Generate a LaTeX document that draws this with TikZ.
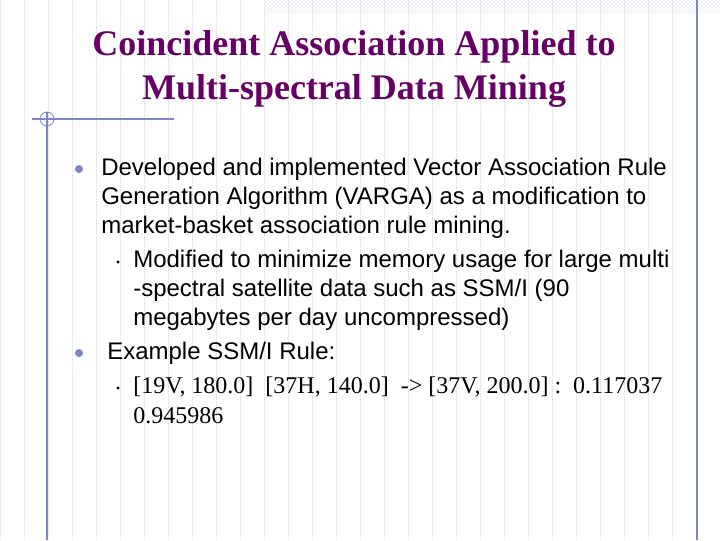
\documentclass[tikz,border=0pt]{standalone}
\usepackage{fontspec}
\setmainfont{Liberation Serif}
\setsansfont{Liberation Sans}
\usetikzlibrary{patterns}
\definecolor{ttl}{HTML}{660066}
\definecolor{deco}{HTML}{7B86C8}
\definecolor{gridc}{HTML}{D8D8E0}
\tikzset{x=0.75pt,y=-0.75pt,
 body/.style={anchor=west,inner sep=0pt,font=\sffamily\fontsize{18}{20}\selectfont},
 bodyser/.style={anchor=west,inner sep=0pt,font=\rmfamily\fontsize{18}{20}\selectfont},
 ttlstyle/.style={inner sep=0pt,text=ttl,font=\rmfamily\bfseries\fontsize{27}{30}\selectfont},
 bul/.style={circle,fill=deco,inner sep=0pt,minimum size=6pt},
 sbul/.style={circle,fill=black,inner sep=0pt,minimum size=2.4pt}}
\begin{document}
\begin{tikzpicture}
\useasboundingbox (0,0) rectangle (720,540);
\fill[white] (0,0) rectangle (720,540);
\draw[gridc,densely dotted,line width=0.5pt] (0,0) grid[step=24] (720,540);
\fill[pattern=crosshatch dots,pattern color=deco!50] (265,0) rectangle (720,12);
\draw[deco,line width=0.8pt] (697,0) -- (697,540);
\draw[deco,line width=0.8pt] (32,119) -- (174,119);
\draw[deco,line width=0.8pt] (47,112) -- (47,540);
\draw[deco,line width=0.6pt] (47,119) circle[radius=7];
\node[ttlstyle] (t1) at (354,47) {Coincident Association Applied to};
\node[ttlstyle] (t2) at (354,91) {Multi-spectral Data Mining};
\node[bul] (b1) at (79,169) {};
\node[body] (l1) at (101,169) {Developed and implemented Vector Association Rule};
\node[body] (l2) at (101,198) {Generation Algorithm (VARGA) as a modification to};
\node[body] (l3) at (101,227) {market-basket association rule mining.};
\node[sbul] (s1) at (118,262) {};
\node[body] (l4) at (133,261) {Modified to minimize memory usage for large multi};
\node[body] (l5) at (133,290) {-spectral satellite data such as SSM/I (90};
\node[body] (l6) at (133,319) {megabytes per day uncompressed)};
\node[bul] (b2) at (79,353) {};
\node[body] (l7) at (107,353) {Example SSM/I Rule:};
\node[sbul] (s2) at (118,388) {};
\node[bodyser] (l8) at (133,387) {[19V, 180.0]\ \ [37H, 140.0]\ \ -> [37V, 200.0] :\ \ 0.117037};
\node[bodyser] (l9) at (133,416) {0.945986};
\end{tikzpicture}
\end{document}
